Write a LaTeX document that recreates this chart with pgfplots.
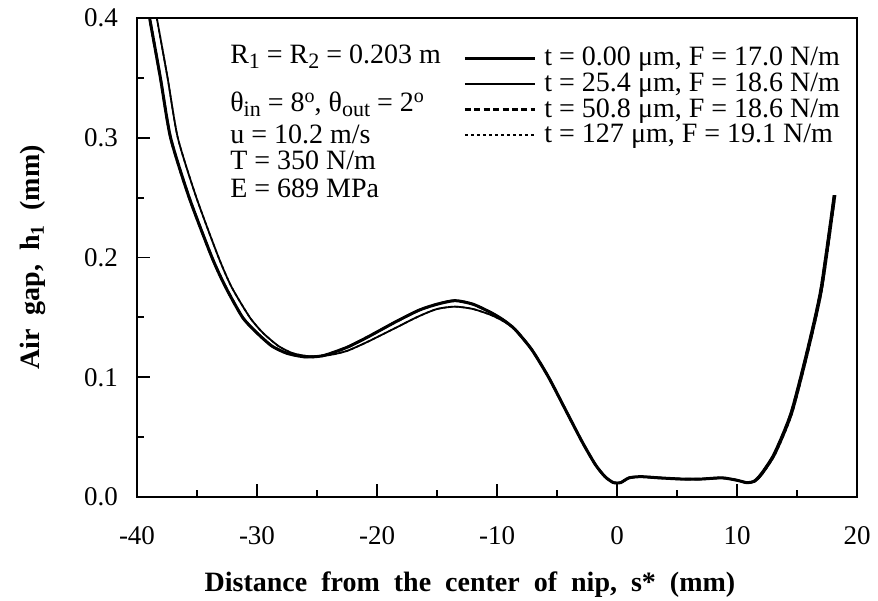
\documentclass[border=0pt]{standalone}
\usepackage{fontspec}
\setmainfont{Liberation Serif}
\newfontfamily\lblfont[WordSpace=2.0]{Liberation Serif}
\usepackage{pgfplots}
\pgfplotsset{compat=1.18}
\newcommand\sub[1]{\raisebox{-2.5pt}{\fontsize{11}{11}\selectfont #1}}
\newcommand\sups[1]{\raisebox{4.5pt}{\fontsize{10}{10}\selectfont #1}}

\pgfplotstableread{
x y
-39.3 0.42
-38.95 0.40
-38.05 0.35
-37.2 0.30
-35.65 0.25
-33.75 0.20
-32.6 0.175
-31.2 0.15
-30.0 0.137
-28.75 0.126
-27.5 0.120
-26.0 0.117
-24.5 0.118
-22.5 0.125
-20.7 0.134
-18.5 0.146
-16.5 0.156
-15.0 0.161
-13.5 0.164
-12.0 0.161
-10.5 0.154
-9.5 0.148
-8.5 0.140
-7.1 0.123
-5.7 0.100
-4.3 0.073
-2.9 0.046
-1.8 0.027
-1.0 0.017
-0.3 0.012
0.3 0.012
1.0 0.016
2.0 0.017
3.5 0.016
5.4 0.015
7.0 0.015
8.75 0.016
10.0 0.014
10.8 0.012
11.4 0.013
12.0 0.019
13.1 0.036
14.5 0.070
15.9 0.124
17.0 0.174
18.1 0.252
}\dataL

\pgfplotstableread{
x y
-38.7 0.42
-38.35 0.40
-37.45 0.35
-36.6 0.30
-35.05 0.25
-33.2 0.20
-32.1 0.175
-30.6 0.15
-29.5 0.137
-28.2 0.126
-27.0 0.120
-25.6 0.1175
-24.0 0.1185
-22.5 0.122
-20.7 0.130
-18.5 0.141
-16.5 0.151
-15.0 0.157
-13.5 0.159
-12.0 0.157
-10.5 0.152
-9.5 0.147
-8.5 0.140
-7.1 0.123
-5.7 0.100
-4.3 0.073
-2.9 0.046
-1.8 0.027
-1.0 0.017
-0.3 0.012
0.3 0.012
1.0 0.016
2.0 0.017
3.5 0.016
5.4 0.015
7.0 0.015
8.75 0.016
10.0 0.014
10.8 0.012
11.5 0.013
12.1 0.019
13.2 0.036
14.6 0.070
16.0 0.124
17.1 0.174
18.2 0.252
}\dataR

\begin{document}
\begin{tikzpicture}
\begin{axis}[
  scale only axis, width=360pt, height=239.5pt,
  xmin=-40, xmax=20, ymin=0, ymax=0.4,
  xtick={-40,-30,-20,-10,0,10,20},
  ytick={0,0.1,0.2,0.3,0.4},
  minor x tick num=1, minor y tick num=1,
  tick pos=left, tick align=inside,
  major tick length=6.5pt, minor tick length=3.5pt,
  every tick/.style={black, line width=0.9pt},
  axis line style={line width=1.1pt},
  /pgf/number format/assume math mode=true,
  ticklabel style={font=\fontsize{13.5}{13.5}\selectfont},
  yticklabel style={/pgf/number format/fixed, /pgf/number format/fixed zerofill, /pgf/number format/precision=1, xshift=-6pt},
  xticklabel style={yshift=-11pt},
  xlabel={Distance from the center of nip, s* (mm)},
  ylabel={Air gap, h\textsubscript{1} (mm)},
  xlabel style={at={(rel axis cs:0.4625,0)}, anchor=center, yshift=-44pt, font=\lblfont\bfseries\fontsize{14}{14}\selectfont},
  ylabel style={at={(rel axis cs:0,0.5)}, anchor=center, yshift=52pt, font=\lblfont\bfseries\fontsize{14}{14}\selectfont},
  legend style={draw=none, fill=none, at={(rel axis cs:0.981,0.946)}, anchor=north east, inner sep=0pt, row sep=-1pt, font=\fontsize{14}{14}\selectfont, nodes={inner sep=1.5pt}, /tikz/every odd column/.append style={column sep=2.5pt}},
  legend cell align=left,
  legend image code/.code={\draw[#1] (0pt,0pt) -- (35pt,0pt);},
  every axis plot/.append style={smooth, tension=0.4},
]
\addplot[black, line width=1.5pt] table[x=x,y=y] {\dataL};
\addlegendentry{t = 0.00 μm, F = 17.0 N/m}
\addplot[black, line width=0.9pt] table[x=x,y=y] {\dataR};
\addlegendentry{t = 25.4 μm, F = 18.6 N/m}
\addplot[black, line width=1.2pt, dash pattern=on 3pt off 1.7pt] table[x=x,y=y] {\dataL};
\addlegendentry{t = 50.8 μm, F = 18.6 N/m}
\addplot[black, line width=0.8pt, dash pattern=on 1.5pt off 1.5pt] table[x=x,y=y] {\dataR};
\addlegendentry{t = 127 μm, F = 19.1 N/m}

\coordinate (SW) at (rel axis cs:0,0);
\coordinate (NE) at (rel axis cs:1,1);
\begin{scope}[every node/.style={anchor=base west, inner sep=0pt, font=\fontsize{14}{14}\selectfont}]
\node at (rel axis cs:0.129,0.906) {R\sub{1} = R\sub{2} = 0.203 m};
\node at (rel axis cs:0.129,0.804) {θ\sub{in} = 8\sups{o}, θ\sub{out} = 2\sups{o}};
\node at (rel axis cs:0.129,0.739) {u = 10.2 m/s};
\node at (rel axis cs:0.129,0.683) {T = 350 N/m};
\node at (rel axis cs:0.129,0.626) {E = 689 MPa};
\end{scope}
\end{axis}
\pgfresetboundingbox
\path ([shift={(-68.5pt,-51.5pt)}]SW) rectangle ([shift={(10.5pt,9pt)}]NE);
\end{tikzpicture}
\end{document}
